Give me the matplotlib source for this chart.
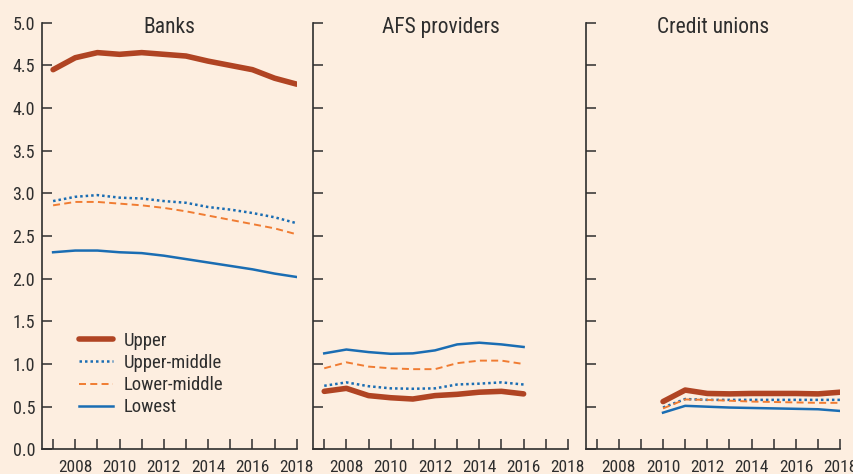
import matplotlib
matplotlib.use('Agg')
import matplotlib.pyplot as plt
import numpy as np

plt.rcParams['font.family'] = ['Roboto Condensed', 'Liberation Sans', 'DejaVu Sans']

BG     = '#fdeee0'
RUST   = '#b04423'
BLUE   = '#1a6db3'
ORANGE = '#f07c32'
INK    = '#2e2e2e'

# ── Data ──────────────────────────────────────────────────────────────────────
years_banks = list(range(2007, 2019))
banks_upper    = [4.45, 4.59, 4.65, 4.63, 4.65, 4.63, 4.61, 4.55, 4.50, 4.45, 4.35, 4.28]
banks_uppermid = [2.91, 2.96, 2.98, 2.95, 2.94, 2.91, 2.89, 2.84, 2.81, 2.77, 2.72, 2.65]
banks_lowermid = [2.86, 2.90, 2.90, 2.88, 2.86, 2.83, 2.79, 2.74, 2.69, 2.64, 2.59, 2.52]
banks_lowest   = [2.31, 2.33, 2.33, 2.31, 2.30, 2.27, 2.23, 2.19, 2.15, 2.11, 2.06, 2.02]

years_afs = list(range(2007, 2017))
afs_upper    = [0.68, 0.715, 0.63, 0.605, 0.59, 0.63, 0.645, 0.67, 0.68, 0.65]
afs_uppermid = [0.745, 0.785, 0.74, 0.715, 0.71, 0.715, 0.76, 0.77, 0.785, 0.76]
afs_lowermid = [0.95, 1.02, 0.97, 0.95, 0.94, 0.94, 1.01, 1.04, 1.04, 1.00]
afs_lowest   = [1.125, 1.17, 1.14, 1.12, 1.125, 1.16, 1.23, 1.25, 1.23, 1.20]

years_cu = list(range(2010, 2019))
cu_upper    = [0.56, 0.695, 0.655, 0.65, 0.655, 0.655, 0.655, 0.65, 0.67]
cu_uppermid = [0.49, 0.59, 0.58, 0.58, 0.58, 0.58, 0.58, 0.58, 0.58]
cu_lowermid = [0.48, 0.585, 0.58, 0.57, 0.56, 0.555, 0.55, 0.545, 0.545]
cu_lowest   = [0.43, 0.51, 0.50, 0.49, 0.485, 0.48, 0.475, 0.47, 0.45]

panel_titles = ['Banks', 'AFS providers', 'Credit unions']
series_labels = ['Upper', 'Upper-middle', 'Lower-middle', 'Lowest']
y_ticks = [0.0, 0.5, 1.0, 1.5, 2.0, 2.5, 3.0, 3.5, 4.0, 4.5, 5.0]

panels = [
    (years_banks, [banks_upper, banks_uppermid, banks_lowermid, banks_lowest]),
    (years_afs,   [afs_upper, afs_uppermid, afs_lowermid, afs_lowest]),
    (years_cu,    [cu_upper, cu_uppermid, cu_lowermid, cu_lowest]),
]

styles = [
    dict(color=RUST,   lw=4.0, ls='-', solid_capstyle='round'),
    dict(color=BLUE,   lw=1.8, ls=(0, (1, 1.2))),
    dict(color=ORANGE, lw=1.4, ls=(0, (3.6, 2.2))),
    dict(color=BLUE,   lw=1.8, ls='-'),
]

# ── Chart ─────────────────────────────────────────────────────────────────────
fig = plt.figure(figsize=(8.54, 4.74), dpi=100)
fig.patch.set_facecolor(BG)

lefts = [0.0492, 0.3667, 0.6856]
width = 0.2983
bottom, height = 0.052, 0.900

axes = []
for i, (left, (yrs, series)) in enumerate(zip(lefts, panels)):
    ax = fig.add_axes([left, bottom, width, height])
    ax.set_facecolor(BG)
    for vals, st, lab in zip(series, styles, series_labels):
        ax.plot(yrs, vals, label=lab, **st)
    ax.set_xlim(2006.5, 2018)
    ax.set_ylim(0, 5)
    ax.set_xticks(range(2007, 2019), minor=True)
    ax.set_xticks(range(2008, 2019, 2))
    ax.set_yticks(y_ticks)
    ax.tick_params(axis='both', which='both', direction='in', length=7,
                   width=1.1, color=INK, labelcolor=INK)
    ax.tick_params(axis='x', pad=8, labelsize=12.5)
    ax.tick_params(axis='y', pad=5, labelsize=13)
    for s in ['top', 'right']:
        ax.spines[s].set_visible(False)
    for s in ['left', 'bottom']:
        ax.spines[s].set_color(INK)
        ax.spines[s].set_linewidth(1.2)
    if i == 0:
        ax.set_yticklabels([f'{v:.1f}' for v in y_ticks])
    else:
        ax.set_yticklabels([])
    ax.text(0.5, 0.977, panel_titles[i], transform=ax.transAxes, ha='center',
            va='baseline', fontsize=15.5, color=INK)
    axes.append(ax)

axes[0].legend(loc='lower left', bbox_to_anchor=(0.08, 0.038), frameon=False,
               fontsize=13.5, handlelength=1.8, handletextpad=0.55,
               labelspacing=0.22, labelcolor=INK)

plt.savefig('out.png', dpi=100, facecolor=BG)
plt.close()
